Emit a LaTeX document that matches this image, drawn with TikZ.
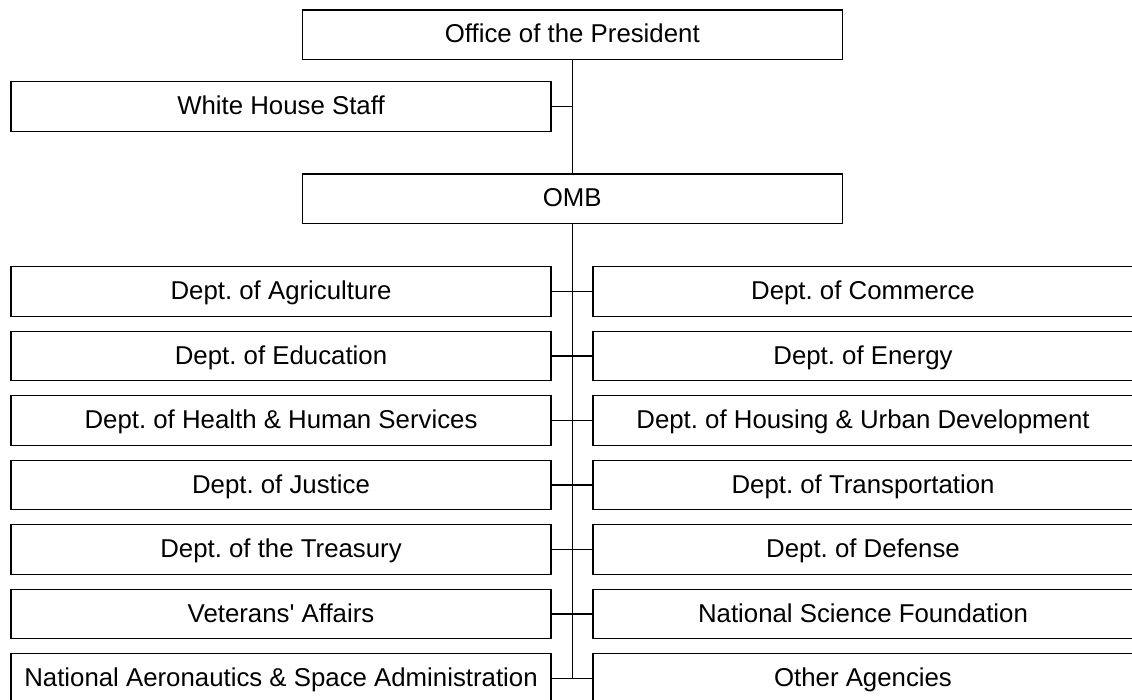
\documentclass[tikz,border=0pt]{standalone}
\usepackage{fontspec}
\setmainfont{Liberation Sans}
\frenchspacing

\begin{document}
\begin{tikzpicture}[x=1pt, y=-1pt, line width=1.2pt]
	\tikzset{office/.style={draw, rectangle, minimum width=540pt, minimum height=49.5pt, inner sep=0pt, text height=18pt, text depth=2pt, font=\fontsize{25.8}{30}\selectfont}}
	\useasboundingbox (0,0) rectangle (1132,700);
	\clip (0,0) rectangle (1132,700);

	% head of the chart
	\node[office] (pres) at (572.3,34.8) {Office of the President};
	\node[office] (whs) at (281,106.5) {White House Staff};
	\node[office] (omb) at (572.3,198.8) {OMB};

	% departments, left column
	\node[office] (agri) at (281,291.5) {Dept. of Agriculture};
	\node[office] (educ) at (281,356) {Dept. of Education};
	\node[office] (hhs) at (281,420.5) {Dept. of Health \& Human Services};
	\node[office] (just) at (281,485) {Dept. of Justice};
	\node[office] (treas) at (281,549.5) {Dept. of the Treasury};
	\node[office] (vets) at (281,614) {Veterans\textquotesingle\ Affairs};
	\node[office] (nasa) at (281,678.5) {National Aeronautics \& Space Administration};

	% departments, right column
	\node[office] (comm) at (863,291.5) {Dept. of Commerce};
	\node[office] (energy) at (863,356) {Dept. of Energy};
	\node[office] (hud) at (863,420.5) {Dept. of Housing \& Urban Development};
	\node[office] (trans) at (863,485) {Dept. of Transportation};
	\node[office] (def) at (863,549.5) {Dept. of Defense};
	\node[office] (nsf) at (863,614) {National Science Foundation};
	\node[office] (other) at (863,678.5) {Other Agencies};

	% connectors
	\draw (pres) -- (omb);
	\draw (whs) -- (whs -| pres);
	\draw (omb) -- (omb |- nasa);
	\draw (agri) -- (comm);
	\draw (educ) -- (energy);
	\draw (hhs) -- (hud);
	\draw (just) -- (trans);
	\draw (treas) -- (def);
	\draw (vets) -- (nsf);
	\draw (nasa) -- (other);
\end{tikzpicture}
\end{document}
